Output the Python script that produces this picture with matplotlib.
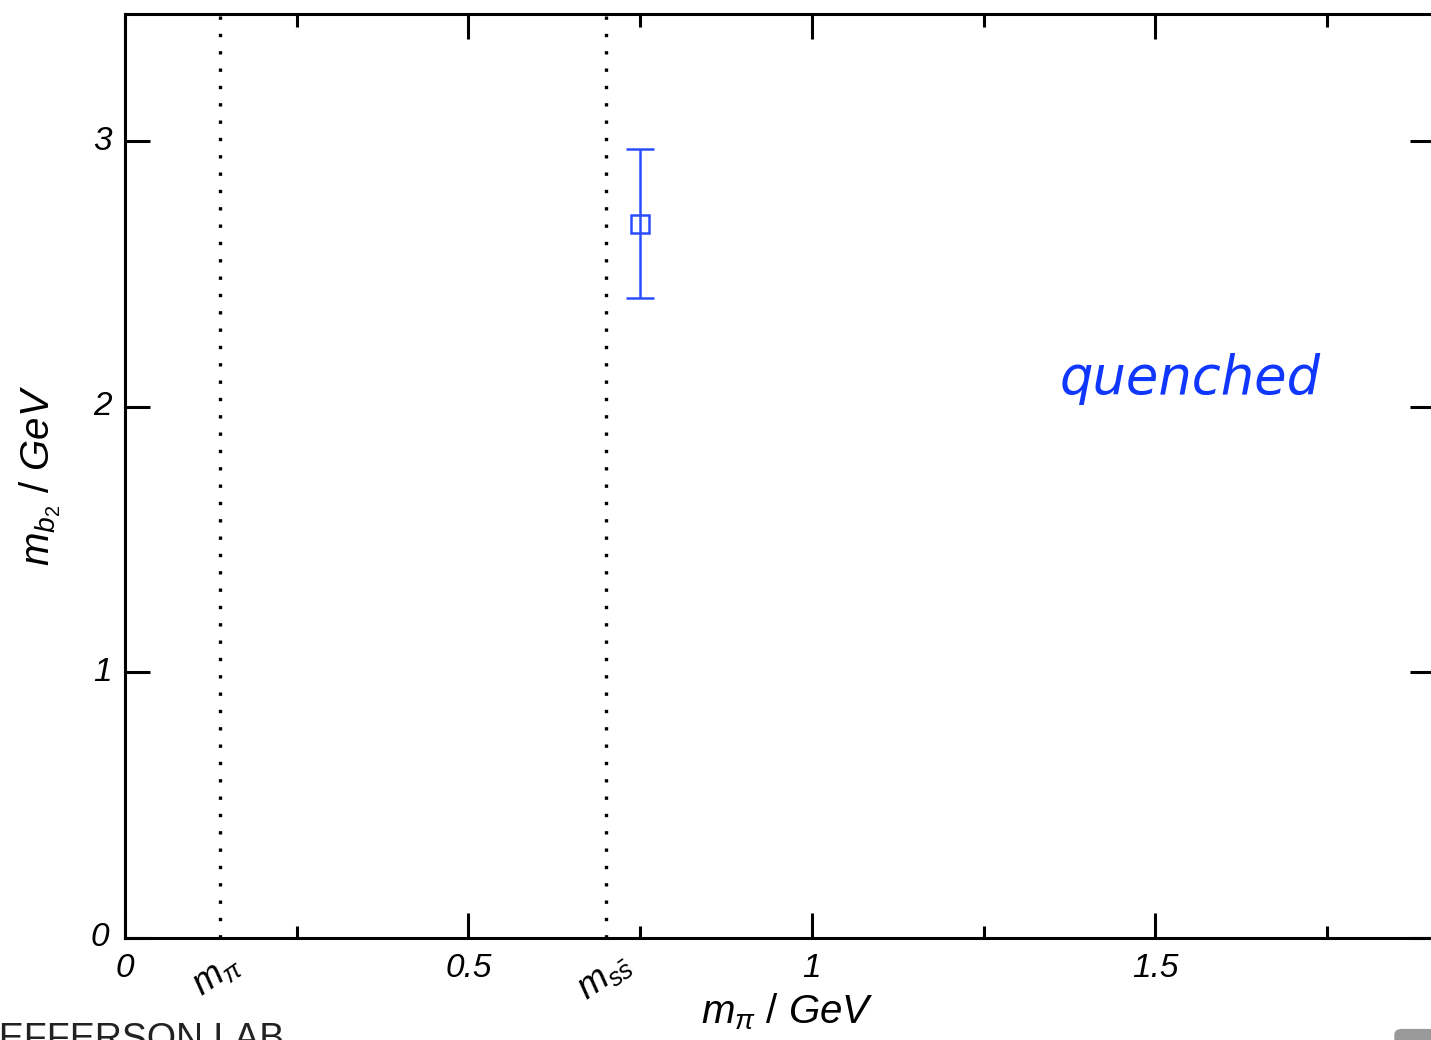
import matplotlib
matplotlib.use('Agg')
import matplotlib.pyplot as plt
from matplotlib.patches import FancyBboxPatch

# data
m_pi_phys = 0.138
m_ss_phys = 0.70
mpi = [0.75]
mb2 = [2.69]
mb2_err = [0.28]

major_x = [0, 0.5, 1, 1.5]
major_x_labels = ['0', '0.5', '1', '1.5']
minor_x = [0.25, 0.75, 1.25, 1.75]
major_y = [0, 1, 2, 3]

plt.rcParams['font.family'] = ['Liberation Sans', 'DejaVu Sans']
plt.rcParams['mathtext.fontset'] = 'custom'
plt.rcParams['mathtext.it'] = 'Liberation Sans:italic'
plt.rcParams['mathtext.rm'] = 'Liberation Sans'

fig = plt.figure(figsize=(14.31, 10.40), dpi=100)
ax = fig.add_axes([125/1431, 1 - 938/1040, 1310/1431, (938-14)/1040])

ax.set_xlim(0, 1.907)
ax.set_ylim(0, 3.48)

# physical mass markers
ax.axvline(m_pi_phys, color='black', lw=2.4, ls=(0, (1, 4.2)))
ax.axvline(m_ss_phys, color='black', lw=2.4, ls=(0, (1, 4.2)))

ax.errorbar(mpi, mb2, yerr=mb2_err, fmt='s', mfc='none', mec='#2a4dff',
            ms=13, mew=1.8, color='#2a4dff', ecolor='#2a4dff', elinewidth=1.8,
            capsize=10, capthick=2.0)

ax.text(1.74, 2.05, 'quenched', color='#1037ff', fontsize=38, style='italic',
        family='DejaVu Sans', ha='right', va='baseline')

for s in ax.spines.values():
    s.set_linewidth(2.2)

ax.set_xticks(major_x)
ax.set_xticklabels([''] * len(major_x))
ax.set_xticks(minor_x, minor=True)
ax.set_yticks(major_y)
ax.set_yticklabels([''] * len(major_y))
ax.tick_params(which='major', direction='in', length=18, width=2.2,
               top=True, right=True)
ax.tick_params(which='minor', direction='in', length=9, width=2.2, top=True)

# tick labels drawn by hand to get the italic look and offsets
for v, lab in zip(major_x, major_x_labels):
    ax.text(v, -0.055, lab, transform=ax.transData, ha='center', va='top',
            fontsize=24, style='italic', clip_on=False)
for v in major_y:
    dx = -0.012 if v == 0 else -0.01
    ax.text(dx, v, str(v), transform=ax.get_yaxis_transform(), ha='right',
            va='center', fontsize=24, style='italic', clip_on=False)

ax.text(m_pi_phys - 0.005, -0.03, r'$m_{\pi}$', ha='center', va='top',
        fontsize=26, rotation=35, clip_on=False)
ax.text(m_ss_phys - 0.002, -0.03, r'$m_{s\bar{s}}$', ha='center', va='top',
        fontsize=26, rotation=35, clip_on=False)

fig.text(787/1431, 1 - 1012/1040, r'$m_{\pi}$ / $GeV$', ha='center',
         va='center', fontsize=29)
fig.text(40/1431, 1 - 475/1040, r'$m_{b_2}$ / $GeV$', ha='center',
         va='center', fontsize=29, rotation=90)

# logo fragments cut by the bottom edge
fig.text(284/1431, 1 - 1050/1040, 'JEFFERSON LAB', fontsize=27,
         color='#222222', ha='right', va='baseline')
fig.patches.append(FancyBboxPatch((1395/1431, -0.01), 0.04, 0.02,
                                  boxstyle='round,pad=0,rounding_size=0.005',
                                  transform=fig.transFigure, color='#999999'))

plt.savefig('out.png', dpi=100)
